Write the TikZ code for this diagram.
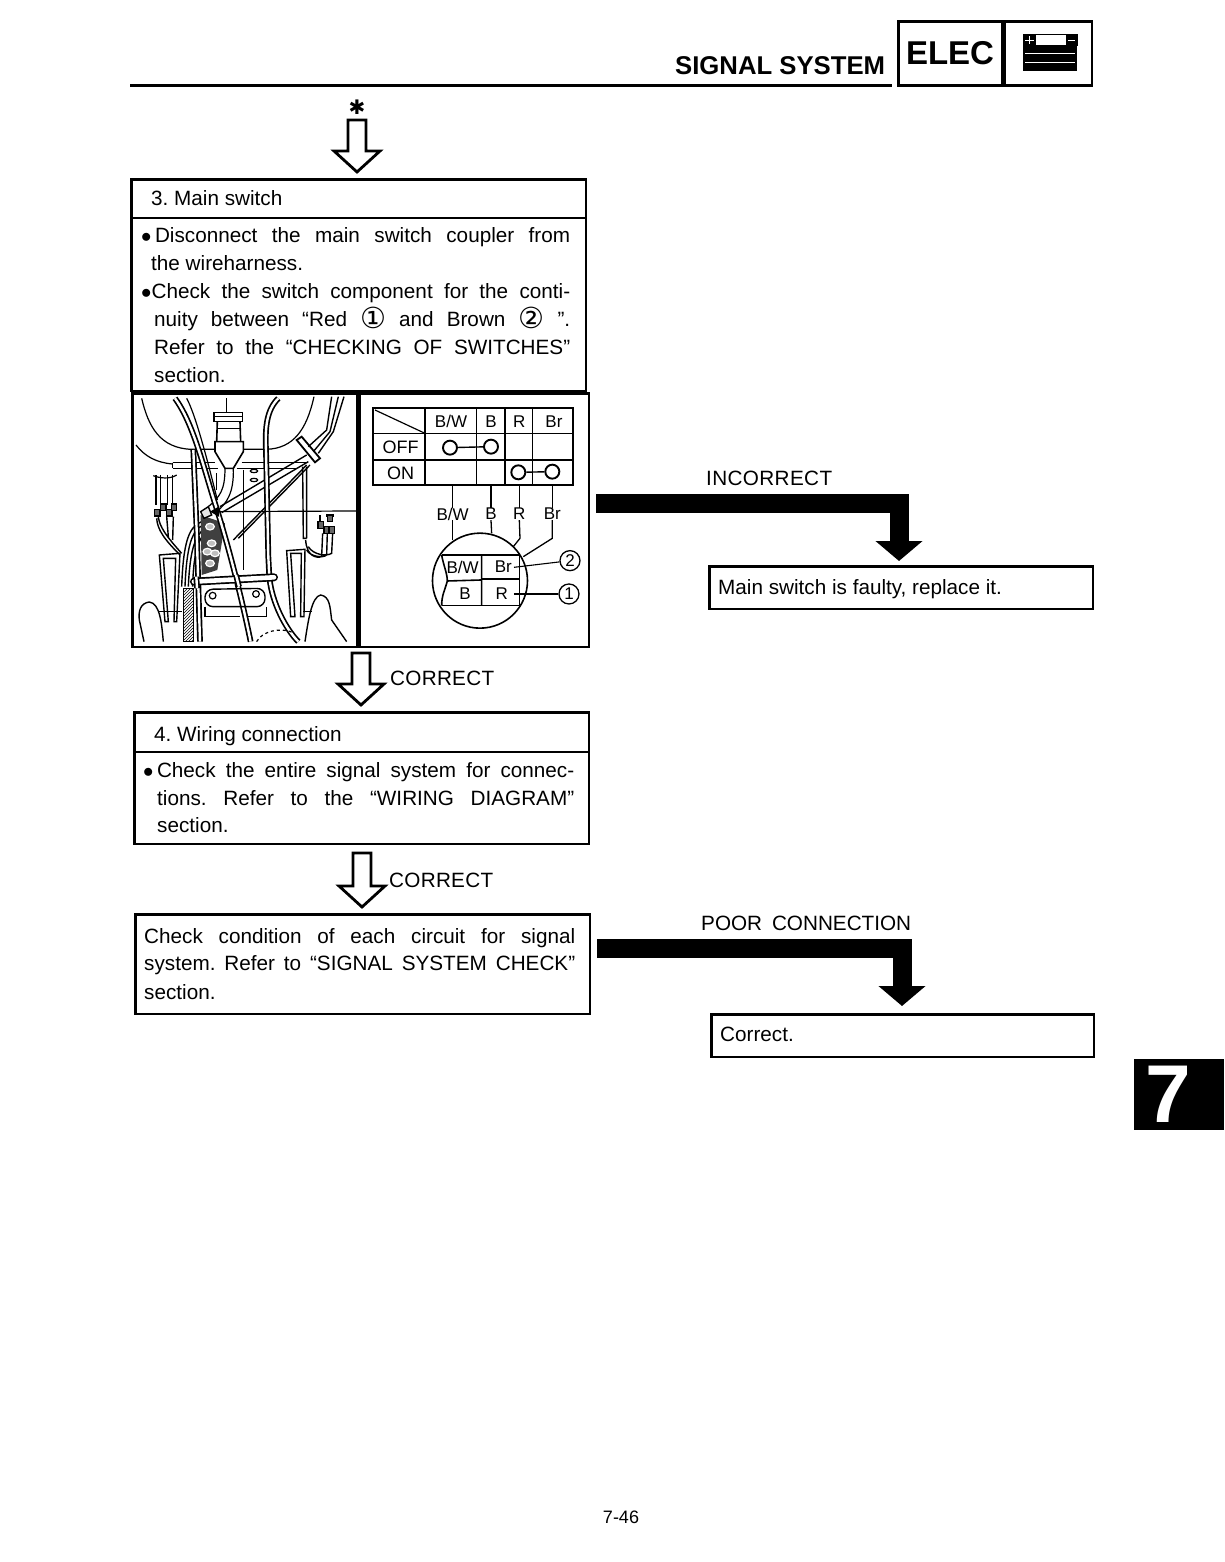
\documentclass[tikz,border=0pt]{standalone}
\usepackage{fontspec}
\setmainfont{Liberation Sans}
\newfontfamily\symfont{DejaVu Sans}
\usetikzlibrary{arrows.meta,patterns,calc}
\tikzset{
    frame/.style={draw=black, line width=2.6pt, inner sep=0pt, anchor=north west},
    txt/.style={anchor=base west, inner sep=0pt, font=\fontsize{20.7}{24}\selectfont},
    tbl/.style={inner sep=0pt, font=\fontsize{17}{20}\selectfont},
    hollow/.style={draw=black, fill=white, line width=2.8pt, miter limit=10},
    elbow/.style={draw=black, line width=19pt, -{Triangle[width=46pt,length=20pt]}},
    cable/.style={draw=black, line width=1.7pt, double=white, double distance=2.4pt},
    pin/.style={circle, draw=black, line width=1.9pt, minimum size=14pt, inner sep=0pt},
    numb/.style={circle, draw=black, line width=1.3pt, minimum size=20pt, inner sep=0pt, font=\fontsize{17}{17}\selectfont}
}
\newcommand{\jl}[2]{\makebox[#1pt][s]{#2}}
\newcommand{\circnum}[1]{\raisebox{-2.5pt}{\symfont\fontsize{29}{29}\selectfont #1}}
\newcommand{\hollowarrow}[2]{
    \draw[hollow] let \p1=(#1), \p2=(#2) in
        ({\x1-9pt},\y1) -- ({\x1+9pt},\y1) -- ({\x1+9pt},{\y2+27pt}) -- ({\x1+23pt},{\y2+27pt})
        -- (\x1,{\y2+6pt}) -- ({\x1-23pt},{\y2+27pt}) -- ({\x1-9pt},{\y2+27pt}) -- cycle;
}
\frenchspacing
\begin{document}
\begin{tikzpicture}[x=1pt, y=-1pt]
        \useasboundingbox (0,0) rectangle (1224,1562);

        % Header
        \node[txt, font=\bfseries\fontsize{25.7}{30}\selectfont] (title) at (675,75) {SIGNAL SYSTEM};
        \draw[line width=3pt] (130,85.5) -- (892,85.5);
        \node[frame, minimum width=103.5pt, minimum height=64.5pt, font=\bfseries\fontsize{33}{36}\selectfont] (elec) at (897,20) {ELEC};
        \node[frame, minimum width=87.5pt, minimum height=64.5pt] (batt) at (1003,20) {};
        \draw[line width=1pt] (1023,35) rectangle (1077,46);
        \fill (1023,45) rectangle (1077,71);
        \fill (1023,35) rectangle (1036,46);
        \fill (1066,35) rectangle (1077,46);
        \draw[white, line width=1.4pt] (1025,40.5) -- (1034,40.5) (1029.5,36.5) -- (1029.5,44.5) (1068,40.5) -- (1075,40.5);
        \draw[white, line width=.7pt] (1025,53) -- (1075,53) (1025,62) -- (1075,62);

        % Box 3
        \node[frame, minimum width=454.5pt, minimum height=211.5pt] (mainsw) at (130,178) {};
        \draw[line width=1.2pt] (130,218) -- (587,218);
        \node[txt] (t3a) at (151,206) {3. Main switch};
        \node[txt] (t3b) at (141,243) {\jl{429}{$\bullet$\,Disconnect the main switch coupler from}};
        \node[txt] (t3c) at (151,270) {the wireharness.};
        \node[txt] (t3d) at (141,298) {\jl{429}{$\bullet$Check the switch component for the conti-}};
        \node[txt] (t3e) at (154,326) {\jl{416}{nuity between “Red \circnum{①} and Brown \circnum{②} ”.}};
        \node[txt] (t3f) at (154,354) {\jl{416}{Refer to the “CHECKING OF SWITCHES”}};
        \node[txt] (t3g) at (154,382) {section.};
        \node[frame, minimum width=224.5pt, minimum height=253.5pt] (photo) at (131,392) {};
        \node[frame, minimum width=229.5pt, minimum height=253.5pt] (panel) at (358,392) {};

        % Photo line art
        \begin{scope}[shift={(130,390)}, x=.3333pt, y=-.3333pt, line width=1.2pt]
            \draw (35,25) .. controls (55,110) and (90,175) .. (185,178) -- (255,178);
            \draw (340,178) -- (410,178) .. controls (490,175) and (530,120) .. (552,20);
            \draw (18,165) .. controls (45,200) and (80,218) .. (128,222);
            \draw (128,218) -- (255,218) (128,235) -- (265,235) (128,218) -- (128,235);
            \draw (335,218) -- (530,218) (320,235) -- (500,235);
            % Switch
            \draw[line width=1.6pt] (290,25) -- (290,68);
            \draw[line width=1.6pt] (252,68) rectangle (338,95);
            \draw (255,80) -- (335,80);
            \draw[line width=1.6pt] (262,95) -- (260,155) (330,95) -- (332,155);
            \draw[line width=1.6pt] (255,155) -- (340,155) -- (340,185) -- (310,235) -- (285,235) -- (255,185) -- cycle;
            \draw (260,115) -- (332,115);
            \draw (285,235) .. controls (285,300) and (270,320) .. (235,350);
            \draw (310,235) .. controls (312,310) and (290,340) .. (260,365);
            \draw (260,250) -- (260,300) (340,240) -- (340,540);
            \draw (372,243) ellipse (11 and 5) (372,270) ellipse (11 and 5);
            % Harness to clamp
            \draw[line width=1.4pt] (270,350) -- (530,195) (275,368) -- (535,215) (310,450) -- (530,225) (325,445) -- (540,225);
            \draw[line width=1.8pt, fill=white] (500,150) -- (515,140) -- (570,205) -- (555,217) -- cycle;
            \draw[line width=1.4pt] (535,170) -- (590,120) -- (605,20) (550,185) -- (600,125) -- (625,20) (565,190) -- (610,125) -- (642,20);
            % Right connector
            \draw[line width=1.4pt] (518,230) -- (520,445) (530,230) -- (530,445) (518,445) -- (530,445);
            \draw[line width=1.4pt] (527,450) .. controls (530,500) and (560,505) .. (575,500) -- (578,430) (530,480) .. controls (540,500) and (580,505) .. (590,495) -- (592,430) (535,470) .. controls (550,495) and (590,500) .. (605,490) -- (608,430);
            \foreach \x/\y in {572/405, 600/385, 590/420, 605/420} {
                \draw[line width=1.2pt, fill=black!60] (\x-8,\y-10) rectangle (\x+8,\y+10);
            }
            \draw (570,375) -- (570,395) (590,372) -- (590,380) (610,372) -- (610,380);
            % Left connector
            \foreach \x in {78,92,112,128} {
                \draw[line width=1.4pt] (\x,255) -- (\x,345);
            }
            \draw (70,257) .. controls (90,265) and (120,268) .. (140,255);
            \foreach \x/\y in {82/368, 100/352, 118/368, 132/352} {
                \draw[line width=1.2pt, fill=black!60] (\x-8,\y-10) rectangle (\x+8,\y+10);
            }
            \draw[line width=1.4pt] (85,380) .. controls (88,410) and (110,440) .. (155,490) (80,385) .. controls (82,420) and (105,450) .. (150,495) (110,380) -- (115,440) (130,380) -- (128,450);
            % Clips
            \draw[line width=1.4pt] (88,495) -- (150,490) -- (140,695) -- (132,695) -- (137,505) -- (100,505) -- (115,695) -- (105,695) -- cycle;
            \draw[line width=1.4pt] (470,482) -- (525,478) -- (522,680) -- (512,680) -- (514,490) -- (482,490) -- (495,680) -- (482,680) -- cycle;
            % Connector cluster
            \draw[line width=1.4pt] (215,395) .. controls (175,410) and (160,460) .. (155,590) (220,405) .. controls (185,420) and (170,470) .. (165,590) (225,415) .. controls (195,435) and (180,480) .. (175,590) (230,425) .. controls (205,445) and (190,490) .. (188,590);
            \fill[black!75] (212,375) -- (285,400) -- (262,540) -- (215,555) -- cycle;
            \foreach \x/\y in {240/410, 245/460, 232/485, 255/490, 240/520} {
                \draw[white, line width=1.2pt, fill=black!25] (\x,\y) ellipse (13 and 10);
            }
            \draw[line width=1.4pt, fill=black!10] (212,365) -- (235,350) -- (245,375) -- (222,385) -- cycle;
            % Cables
            \draw[cable] (135,25) .. controls (190,100) and (220,230) .. (255,340) .. controls (290,450) and (330,600) .. (362,755);
            \draw[cable] (190,180) -- (200,420) -- (210,755);
            \draw[cable] (445,25) .. controls (410,60) and (405,110) .. (408,180) -- (415,500) -- (418,560) .. controls (425,640) and (470,720) .. (505,755);
            \draw[line width=1.2pt] (170,25) .. controls (195,70) and (230,200) .. (262,330);
            % Loop and plate
            \draw[line width=8pt, line cap=round] (192,575) -- (432,562);
            \draw[white, line width=4.6pt, line cap=round] (192,575) -- (432,562);
            \draw[cable] (318,555) -- (327,590);
            \draw[cable] (199,560) -- (201,595);
            \draw[line width=1.4pt, rounded corners=8pt] (225,598) -- (405,595) -- (405,650) -- (225,650) -- cycle;
            \draw (248,617) circle (10) (378,612) circle (10);
            \draw (225,650) -- (225,680) -- (330,680) (350,680) -- (410,680) -- (410,650);
            \draw[pattern=north east lines] (160,595) -- (190,595) -- (190,755) -- (160,755) -- cycle;
            % Handles
            \draw[line width=1.4pt] (100,755) .. controls (95,700) and (90,640) .. (58,636) .. controls (30,640) and (25,665) .. (28,690) -- (42,755);
            \draw[line width=1.4pt] (525,755) .. controls (535,690) and (545,620) .. (572,615) .. controls (600,620) and (600,650) .. (605,690) -- (650,755);
            \draw (85,665) -- (155,665) (520,665) -- (545,665);
            \draw[dashed] (380,755) .. controls (395,725) and (450,710) .. (490,728);
            % Pointer
            \coordinate (ptrA) at (679,363);
            \coordinate (ptrB) at (240,365);
            \draw[line width=1.2pt, -{Triangle[width=10pt,length=9pt]}] (ptrA) -- (ptrB);
        \end{scope}

        % Switch table
        \begin{scope}[shift={(360,395)}, x=.3333pt, y=-.3333pt]
            \draw[line width=1.8pt] (40,40) rectangle (640,270);
            \draw[line width=1.2pt] (40,115) -- (640,115) (40,195) -- (640,195);
            \foreach \x in {195,350,435,518} {
                \draw[line width=1.2pt] (\x,40) -- (\x,270);
            }
            \draw[line width=1.2pt] (45,45) -- (195,115);
            \foreach \i/\x/\lab in {1/273/{B/W}, 2/393/B, 3/478/R, 4/582/Br} {
                \node[tbl] (hd\i) at (\x,80) {\lab};
            }
            \node[tbl, font=\fontsize{18}{20}\selectfont] (off) at (122,158) {OFF};
            \node[tbl, font=\fontsize{18}{20}\selectfont] (on) at (122,234) {ON};
            \node[pin] (offa) at (270,158) {};
            \node[pin] (offb) at (393,155) {};
            \node[pin] (ona) at (475,232) {};
            \node[pin] (onb) at (577,230) {};
            \draw[line width=1.4pt] (offa) -- (offb);
            \draw[line width=1.4pt] (ona) -- (onb);

            % Wires down to the coupler
            \foreach \i/\x/\lab in {1/278/{B/W}, 2/393/B, 3/478/R, 4/577/Br} {
                \coordinate (tb\i) at (\x,270);
                \node[tbl] (wl\i) at (\x,357) {\lab};
                \draw[line width=1.3pt] (tb\i) -- (wl\i.north);
            }
            \coordinate (bc1) at (278,435);
            \coordinate (bc2) at (395,415);
            \coordinate (bc3) at (460,455);
            \coordinate (bc4) at (490,485);
            \draw[line width=1.3pt] (wl1.south) -- (bc1);
            \draw[line width=1.3pt] (wl2.south) -- (bc2);
            \draw[line width=1.3pt] (wl3.south) -- (480,430) -- (bc3);
            \draw[line width=1.3pt] (wl4.south) -- (577,430) -- (bc4);

            % Coupler
            \node[circle, draw=black, line width=1.6pt, minimum size=95pt, inner sep=0pt] (coupler) at (360,557) {};
            \draw[line width=1.6pt] (245,480) -- (478,480) -- (478,632) -- (245,632);
            \draw[line width=1.6pt] (365,480) -- (365,632) (365,552) -- (478,552) (262,558) -- (365,555);
            \draw[line width=1.6pt] (245,480) .. controls (250,510) and (262,535) .. (262,558) .. controls (255,585) and (245,600) .. (245,632);
            \node[tbl] (cbw) at (308,516) {B/W};
            \node[tbl] (cbr) at (430,516) {Br};
            \node[tbl] (cb) at (315,597) {B};
            \node[tbl] (cr) at (425,597) {R};
            \node[numb] (num2) at (630,497) {2};
            \node[numb] (num1) at (627,597) {1};
            \coordinate (ld2) at (462,517);
            \coordinate (ld1) at (462,597);
            \draw[line width=1.1pt] (ld2) -- (num2);
            \draw[line width=1.1pt] (ld1) -- (num1);
        \end{scope}

        % Box 4
        \node[frame, minimum width=454.5pt, minimum height=131.5pt] (wiring) at (133,711) {};
        \draw[line width=1.2pt] (133,752) -- (590,752);
        \node[txt] (t4a) at (154,741) {4. Wiring connection};
        \node[txt] (t4b) at (143,777) {\jl{431}{$\bullet$\,Check the entire signal system for connec-}};
        \node[txt] (t4c) at (157,805) {\jl{417}{tions. Refer to the “WIRING DIAGRAM”}};
        \node[txt] (t4d) at (157,832) {section.};

        % Box 5
        \node[frame, minimum width=454.5pt, minimum height=99.5pt] (circuit) at (134,913) {};
        \node[txt] (t5a) at (144,943) {\jl{431}{Check condition of each circuit for signal}};
        \node[txt] (t5b) at (144,970) {\jl{431}{system. Refer to “SIGNAL SYSTEM CHECK”}};
        \node[txt] (t5c) at (144,999) {section.};

        % Right hand boxes
        \node[frame, minimum width=383.5pt, minimum height=42.5pt] (faulty) at (708,565) {};
        \node[txt] (t6) at (718,594) {Main switch is faulty, replace it.};
        \node[frame, minimum width=382.5pt, minimum height=42.5pt] (correct) at (710,1013) {};
        \node[txt] (t7) at (720,1041) {Correct.};
        \node[txt] (incorrect) at (706,485.5) {\makebox[126pt][s]{I\hfil N\hfil C\hfil O\hfil R\hfil R\hfil E\hfil C\hfil T}};
        \node[txt] (poor) at (701,930.5) {\makebox[210pt][s]{POOR CONNECTION}};

        % Hollow arrows
        \node[inner sep=0pt, font=\symfont\fontsize{20}{20}\selectfont] (star) at (357,107) {✱};
        \coordinate (startop) at (357,120);
        \hollowarrow{startop}{mainsw.north}
        \coordinate (chktop) at (361,653);
        \hollowarrow{chktop}{wiring.north}
        \coordinate (cortop) at (362,853);
        \hollowarrow{cortop}{circuit.north}
        \node[txt] (ok1) at (390,685.5) {\makebox[104pt][s]{C\hfil O\hfil R\hfil R\hfil E\hfil C\hfil T}};
        \node[txt] (ok2) at (389,887.5) {\makebox[104pt][s]{C\hfil O\hfil R\hfil R\hfil E\hfil C\hfil T}};

        % Black arrows
        \coordinate (incstart) at (596,503);
        \coordinate (incend) at (899,561);
        \draw[elbow] (incstart) -| (incend);
        \coordinate (poorstart) at (597,948);
        \coordinate (poorend) at (902,1006);
        \draw[elbow] (poorstart) -| (poorend);

        % Chapter tab and page number
        \fill (1134,1059) rectangle (1224,1130);
        \node[inner sep=0pt, text=white, font=\bfseries\fontsize{82}{82}\selectfont] (tab) at (1168,1094) {7};
        \node[inner sep=0pt, font=\fontsize{18}{20}\selectfont] (page) at (621,1517) {7-46};
\end{tikzpicture}
\end{document}
